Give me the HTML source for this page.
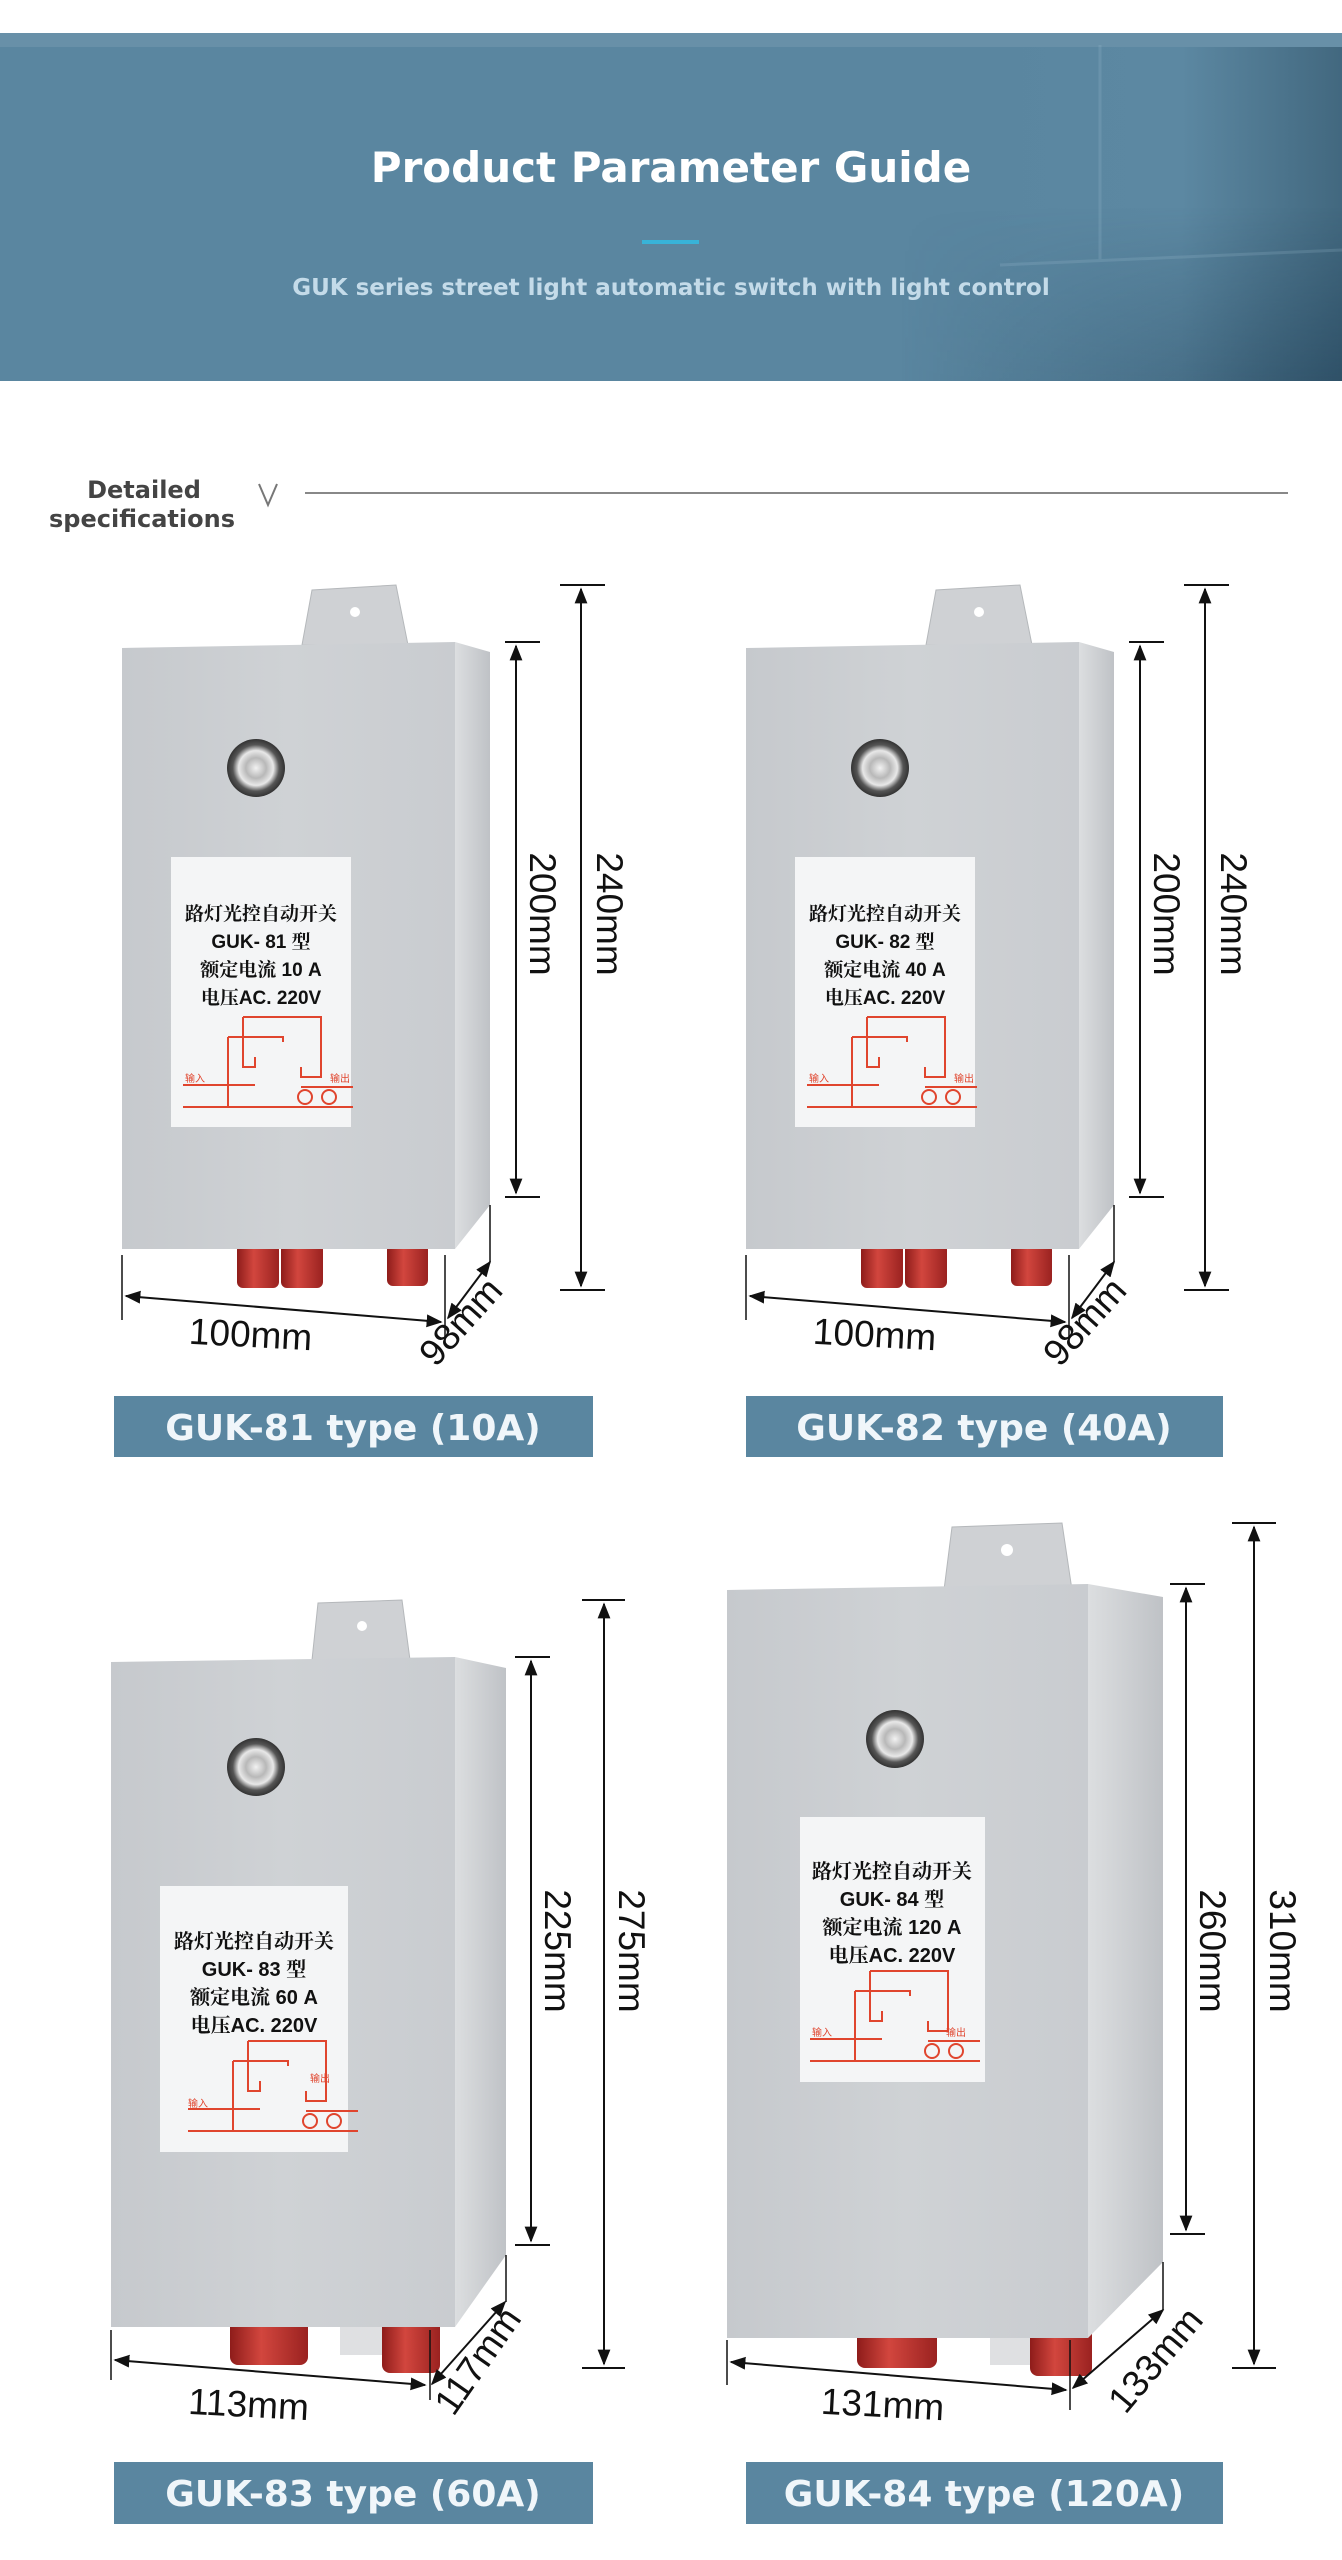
<!DOCTYPE html>
<html><head><meta charset="utf-8">
<style>
html,body{margin:0;padding:0;background:#fff;}
body{width:1342px;height:2560px;position:relative;overflow:hidden;font-family:"Liberation Sans","Noto Sans CJK SC",sans-serif;}
svg{position:absolute;left:0;top:0;}
</style></head>
<body>
<svg width="1342" height="2560" viewBox="0 0 1342 2560" xmlns="http://www.w3.org/2000/svg">
<defs>
<linearGradient id="hdr" x1="0" x2="1" y1="0" y2="0">
<stop offset="0" stop-color="#5a86a0"/><stop offset="0.72" stop-color="#5a86a0"/><stop offset="0.88" stop-color="#5c88a2"/><stop offset="1" stop-color="#42687f"/>
</linearGradient>
<linearGradient id="hdrh" x1="0" x2="1" y1="0" y2="0">
<stop offset="0" stop-color="#1c3a50" stop-opacity="0"/><stop offset="1" stop-color="#1c3a50" stop-opacity="0.5"/>
</linearGradient>
<linearGradient id="hdrm" x1="0" x2="0" y1="0" y2="1">
<stop offset="0" stop-color="#fff" stop-opacity="0"/><stop offset="0.5" stop-color="#fff" stop-opacity="0"/><stop offset="1" stop-color="#fff" stop-opacity="1"/>
</linearGradient>
<mask id="hm"><rect x="900" y="33" width="442" height="348" fill="url(#hdrm)"/></mask>
<linearGradient id="front" x1="0" x2="1" y1="0" y2="0">
<stop offset="0" stop-color="#c6c9cd"/><stop offset="0.5" stop-color="#cfd2d5"/><stop offset="1" stop-color="#c9ccd0"/>
</linearGradient>
<linearGradient id="side" x1="0" x2="1" y1="0" y2="0">
<stop offset="0" stop-color="#dcdee0"/><stop offset="1" stop-color="#bfc2c6"/>
</linearGradient>
<linearGradient id="red" x1="0" x2="1" y1="0" y2="0">
<stop offset="0" stop-color="#8e1c1a"/><stop offset="0.4" stop-color="#d2463e"/><stop offset="1" stop-color="#9a2220"/>
</linearGradient>
<radialGradient id="sens"><stop offset="0" stop-color="#f2f2f2"/><stop offset="0.35" stop-color="#b8b8b8"/><stop offset="0.6" stop-color="#e8e8e8"/><stop offset="0.8" stop-color="#555"/><stop offset="1" stop-color="#333"/></radialGradient>
<marker id="ar" viewBox="0 0 10 10" refX="9" refY="5" markerWidth="8" markerHeight="8" orient="auto-start-reverse"><path d="M0,1 L10,5 L0,9 z" fill="#111"/></marker>
<g id="circ" fill="none" stroke="#e0452e" stroke-width="2">
<path d="M60,0 H138 V60 H118 V50"/><path d="M60,0 V50 H72 V40"/><path d="M45,20 H100 V25"/><path d="M45,20 V90"/><path d="M0,68 H72"/><path d="M0,90 H170"/><path d="M118,70 H170"/>
<circle cx="122" cy="80" r="7"/><circle cx="146" cy="80" r="7"/>
</g>
</defs>

<!-- header -->
<rect x="0" y="33" width="1342" height="348" fill="url(#hdr)"/>
<rect x="900" y="33" width="442" height="348" fill="url(#hdrh)" mask="url(#hm)"/>
<rect x="0" y="33" width="1342" height="14" fill="#6890a8"/>
<g opacity="0.18" stroke="#a9c8da" stroke-width="3">
<line x1="1100" y1="45" x2="1100" y2="260"/><line x1="1000" y1="265" x2="1342" y2="250"/>
</g>
<text x="671" y="182" text-anchor="middle" font-family="'DejaVu Sans',sans-serif" font-weight="bold" font-size="42" fill="#fff">Product Parameter Guide</text>
<rect x="642" y="240" width="57" height="4" fill="#38b3d8"/>
<text x="671" y="295" text-anchor="middle" font-family="'DejaVu Sans',sans-serif" font-weight="bold" font-size="23" fill="#c4dbe9">GUK series street light automatic switch with light control</text>

<!-- section -->
<text x="144" y="498" text-anchor="middle" font-family="'DejaVu Sans',sans-serif" font-weight="bold" font-size="24" fill="#444">Detailed</text>
<text x="142" y="527" text-anchor="middle" font-family="'DejaVu Sans',sans-serif" font-weight="bold" font-size="24" fill="#444">specifications</text>
<path d="M259,484 L268,505 L277,484" fill="none" stroke="#777" stroke-width="2"/>
<line x1="305" y1="493" x2="1288" y2="493" stroke="#888" stroke-width="2"/>

<!-- BOX 1 -->
<g>
<polygon points="302,645 312,590 396,585 408,645" fill="#cfd1d4" stroke="#b5b8bb"/>
<circle cx="355" cy="612" r="5" fill="#fff"/>
<rect x="237" y="1244" width="42" height="44" rx="6" fill="url(#red)"/>
<rect x="281" y="1244" width="42" height="44" rx="6" fill="url(#red)"/>
<rect x="387" y="1244" width="41" height="42" rx="6" fill="url(#red)"/>
<polygon points="122,648 455,642 455,1249 122,1249" fill="url(#front)"/>
<polygon points="455,642 490,652 490,1205 455,1249" fill="url(#side)"/>
<circle cx="256" cy="768" r="29" fill="url(#sens)"/>
<rect x="171" y="857" width="180" height="270" fill="#f4f5f6"/>
<g font-family="'Liberation Sans','Noto Serif CJK SC',serif" font-weight="bold" font-size="19" fill="#111" text-anchor="middle">
<text x="261" y="920">路灯光控自动开关</text><text x="261" y="948">GUK- 81 型</text><text x="261" y="976">额定电流 10 A</text><text x="261" y="1004">电压AC. 220V</text>
</g>
<use href="#circ" x="183" y="1017"/>
<text x="185" y="1082" font-size="10" fill="#e0452e">输入</text><text x="330" y="1082" font-size="10" fill="#e0452e">输出</text>
</g>
<g stroke="#111" stroke-width="2" fill="none">
<line x1="505" y1="642" x2="540" y2="642"/><line x1="505" y1="1197" x2="540" y2="1197"/>
<line x1="516" y1="646" x2="516" y2="1193" marker-start="url(#ar)" marker-end="url(#ar)"/>
<line x1="560" y1="585" x2="605" y2="585"/><line x1="560" y1="1290" x2="605" y2="1290"/>
<line x1="581" y1="589" x2="581" y2="1286" marker-start="url(#ar)" marker-end="url(#ar)"/>
<line x1="122" y1="1255" x2="122" y2="1320" stroke-width="1.5"/><line x1="445" y1="1255" x2="445" y2="1345" stroke-width="1.5"/>
<line x1="126" y1="1296" x2="441" y2="1322" marker-start="url(#ar)" marker-end="url(#ar)"/>
<line x1="448" y1="1318" x2="490" y2="1262" marker-start="url(#ar)" marker-end="url(#ar)"/>
<line x1="490" y1="1205" x2="490" y2="1262" stroke-width="1.5"/>
</g>
<g font-family="'Liberation Sans',sans-serif" font-size="37" fill="#111">
<text transform="translate(530,914) rotate(90)" text-anchor="middle">200mm</text>
<text transform="translate(597,914) rotate(90)" text-anchor="middle">240mm</text>
<text x="250" y="1347" text-anchor="middle" transform="rotate(3 250 1347)">100mm</text>
<text transform="translate(470,1330) rotate(-48)" text-anchor="middle">98mm</text>
</g>
<rect x="114" y="1396" width="479" height="61" fill="#5a86a0"/>
<text x="353" y="1440" text-anchor="middle" font-family="'DejaVu Sans',sans-serif" font-weight="bold" font-size="36" fill="#f0f6fa">GUK-81 type (10A)</text>

<!-- BOX 2 -->
<g transform="translate(624,0)">
<polygon points="302,645 312,590 396,585 408,645" fill="#cfd1d4" stroke="#b5b8bb"/>
<circle cx="355" cy="612" r="5" fill="#fff"/>
<rect x="237" y="1244" width="42" height="44" rx="6" fill="url(#red)"/>
<rect x="281" y="1244" width="42" height="44" rx="6" fill="url(#red)"/>
<rect x="387" y="1244" width="41" height="42" rx="6" fill="url(#red)"/>
<polygon points="122,648 455,642 455,1249 122,1249" fill="url(#front)"/>
<polygon points="455,642 490,652 490,1205 455,1249" fill="url(#side)"/>
<circle cx="256" cy="768" r="29" fill="url(#sens)"/>
<rect x="171" y="857" width="180" height="270" fill="#f4f5f6"/>
<g font-family="'Liberation Sans','Noto Serif CJK SC',serif" font-weight="bold" font-size="19" fill="#111" text-anchor="middle">
<text x="261" y="920">路灯光控自动开关</text><text x="261" y="948">GUK- 82 型</text><text x="261" y="976">额定电流 40 A</text><text x="261" y="1004">电压AC. 220V</text>
</g>
<use href="#circ" x="183" y="1017"/>
<text x="185" y="1082" font-size="10" fill="#e0452e">输入</text><text x="330" y="1082" font-size="10" fill="#e0452e">输出</text>
<g stroke="#111" stroke-width="2" fill="none">
<line x1="505" y1="642" x2="540" y2="642"/><line x1="505" y1="1197" x2="540" y2="1197"/>
<line x1="516" y1="646" x2="516" y2="1193" marker-start="url(#ar)" marker-end="url(#ar)"/>
<line x1="560" y1="585" x2="605" y2="585"/><line x1="560" y1="1290" x2="605" y2="1290"/>
<line x1="581" y1="589" x2="581" y2="1286" marker-start="url(#ar)" marker-end="url(#ar)"/>
<line x1="122" y1="1255" x2="122" y2="1320" stroke-width="1.5"/><line x1="445" y1="1255" x2="445" y2="1345" stroke-width="1.5"/>
<line x1="126" y1="1296" x2="441" y2="1322" marker-start="url(#ar)" marker-end="url(#ar)"/>
<line x1="448" y1="1318" x2="490" y2="1262" marker-start="url(#ar)" marker-end="url(#ar)"/>
<line x1="490" y1="1205" x2="490" y2="1262" stroke-width="1.5"/>
</g>
<g font-family="'Liberation Sans',sans-serif" font-size="37" fill="#111">
<text transform="translate(530,914) rotate(90)" text-anchor="middle">200mm</text>
<text transform="translate(597,914) rotate(90)" text-anchor="middle">240mm</text>
<text x="250" y="1347" text-anchor="middle" transform="rotate(3 250 1347)">100mm</text>
<text transform="translate(470,1330) rotate(-48)" text-anchor="middle">98mm</text>
</g>
</g>
<rect x="746" y="1396" width="477" height="61" fill="#5a86a0"/>
<text x="984" y="1440" text-anchor="middle" font-family="'DejaVu Sans',sans-serif" font-weight="bold" font-size="36" fill="#f0f6fa">GUK-82 type (40A)</text>

<!-- BOX 3 -->
<g>
<polygon points="312,1660 318,1603 402,1600 410,1660" fill="#cfd1d4" stroke="#b5b8bb"/>
<circle cx="362" cy="1626" r="5" fill="#fff"/>
<rect x="340" y="2310" width="100" height="45" fill="#dfe0e2"/>
<rect x="230" y="2305" width="78" height="60" rx="8" fill="url(#red)"/>
<rect x="382" y="2315" width="58" height="58" rx="8" fill="url(#red)"/>
<polygon points="111,1662 455,1657 455,2327 111,2327" fill="url(#front)"/>
<polygon points="455,1657 506,1668 506,2255 455,2327" fill="url(#side)"/>
<circle cx="256" cy="1767" r="29" fill="url(#sens)"/>
<rect x="160" y="1886" width="188" height="266" fill="#f4f5f6"/>
<g font-family="'Liberation Sans','Noto Serif CJK SC',serif" font-weight="bold" font-size="20" fill="#111" text-anchor="middle">
<text x="254" y="1948">路灯光控自动开关</text><text x="254" y="1976">GUK- 83 型</text><text x="254" y="2004">额定电流 60 A</text><text x="254" y="2032">电压AC. 220V</text>
</g>
<use href="#circ" x="188" y="2041"/>
<text x="188" y="2107" font-size="10" fill="#e0452e">输入</text><text x="310" y="2082" font-size="10" fill="#e0452e">输出</text>
</g>
<g stroke="#111" stroke-width="2" fill="none">
<line x1="515" y1="1657" x2="550" y2="1657"/><line x1="515" y1="2245" x2="550" y2="2245"/>
<line x1="531" y1="1661" x2="531" y2="2241" marker-start="url(#ar)" marker-end="url(#ar)"/>
<line x1="582" y1="1600" x2="625" y2="1600"/><line x1="582" y1="2368" x2="625" y2="2368"/>
<line x1="604" y1="1604" x2="604" y2="2364" marker-start="url(#ar)" marker-end="url(#ar)"/>
<line x1="111" y1="2330" x2="111" y2="2380" stroke-width="1.5"/><line x1="430" y1="2330" x2="430" y2="2400" stroke-width="1.5"/>
<line x1="115" y1="2360" x2="425" y2="2385" marker-start="url(#ar)" marker-end="url(#ar)"/>
<line x1="432" y1="2384" x2="505" y2="2302" marker-start="url(#ar)" marker-end="url(#ar)"/>
<line x1="506" y1="2255" x2="506" y2="2302" stroke-width="1.5"/>
</g>
<g font-family="'Liberation Sans',sans-serif" font-size="37" fill="#111">
<text transform="translate(545,1951) rotate(90)" text-anchor="middle">225mm</text>
<text transform="translate(619,1951) rotate(90)" text-anchor="middle">275mm</text>
<text x="248" y="2417" text-anchor="middle" transform="rotate(3 248 2417)">113mm</text>
<text transform="translate(488,2368) rotate(-55)" text-anchor="middle">117mm</text>
</g>
<rect x="114" y="2462" width="479" height="62" fill="#5a86a0"/>
<text x="353" y="2506" text-anchor="middle" font-family="'DejaVu Sans',sans-serif" font-weight="bold" font-size="36" fill="#f0f6fa">GUK-83 type (60A)</text>

<!-- BOX 4 -->
<g>
<polygon points="944,1590 952,1527 1062,1523 1072,1590" fill="#cfd1d4" stroke="#b5b8bb"/>
<circle cx="1007" cy="1550" r="6" fill="#fff"/>
<rect x="990" y="2320" width="100" height="45" fill="#dfe0e2"/>
<rect x="857" y="2310" width="80" height="58" rx="8" fill="url(#red)"/>
<rect x="1030" y="2318" width="62" height="58" rx="8" fill="url(#red)"/>
<polygon points="727,1590 1088,1584 1088,2338 727,2338" fill="url(#front)"/>
<polygon points="1088,1584 1163,1597 1163,2262 1088,2338" fill="url(#side)"/>
<circle cx="895" cy="1739" r="29" fill="url(#sens)"/>
<rect x="800" y="1817" width="185" height="265" fill="#f4f5f6"/>
<g font-family="'Liberation Sans','Noto Serif CJK SC',serif" font-weight="bold" font-size="20" fill="#111" text-anchor="middle">
<text x="892" y="1878">路灯光控自动开关</text><text x="892" y="1906">GUK- 84 型</text><text x="892" y="1934">额定电流 120 A</text><text x="892" y="1962">电压AC. 220V</text>
</g>
<use href="#circ" x="810" y="1971"/>
<text x="812" y="2036" font-size="10" fill="#e0452e">输入</text><text x="946" y="2036" font-size="10" fill="#e0452e">输出</text>
</g>
<g stroke="#111" stroke-width="2" fill="none">
<line x1="1170" y1="1584" x2="1205" y2="1584"/><line x1="1170" y1="2234" x2="1205" y2="2234"/>
<line x1="1186" y1="1588" x2="1186" y2="2230" marker-start="url(#ar)" marker-end="url(#ar)"/>
<line x1="1232" y1="1523" x2="1276" y2="1523"/><line x1="1232" y1="2368" x2="1276" y2="2368"/>
<line x1="1254" y1="1527" x2="1254" y2="2364" marker-start="url(#ar)" marker-end="url(#ar)"/>
<line x1="727" y1="2340" x2="727" y2="2385" stroke-width="1.5"/><line x1="1070" y1="2340" x2="1070" y2="2410" stroke-width="1.5"/>
<line x1="731" y1="2362" x2="1066" y2="2390" marker-start="url(#ar)" marker-end="url(#ar)"/>
<line x1="1073" y1="2388" x2="1163" y2="2310" marker-start="url(#ar)" marker-end="url(#ar)"/>
<line x1="1163" y1="2262" x2="1163" y2="2310" stroke-width="1.5"/>
</g>
<g font-family="'Liberation Sans',sans-serif" font-size="37" fill="#111">
<text transform="translate(1200,1951) rotate(90)" text-anchor="middle">260mm</text>
<text transform="translate(1270,1951) rotate(90)" text-anchor="middle">310mm</text>
<text x="882" y="2417" text-anchor="middle" transform="rotate(3 882 2417)">131mm</text>
<text transform="translate(1165,2368) rotate(-50)" text-anchor="middle">133mm</text>
</g>
<rect x="746" y="2462" width="477" height="62" fill="#5a86a0"/>
<text x="984" y="2506" text-anchor="middle" font-family="'DejaVu Sans',sans-serif" font-weight="bold" font-size="36" fill="#f0f6fa">GUK-84 type (120A)</text>
</svg>
</body></html>
